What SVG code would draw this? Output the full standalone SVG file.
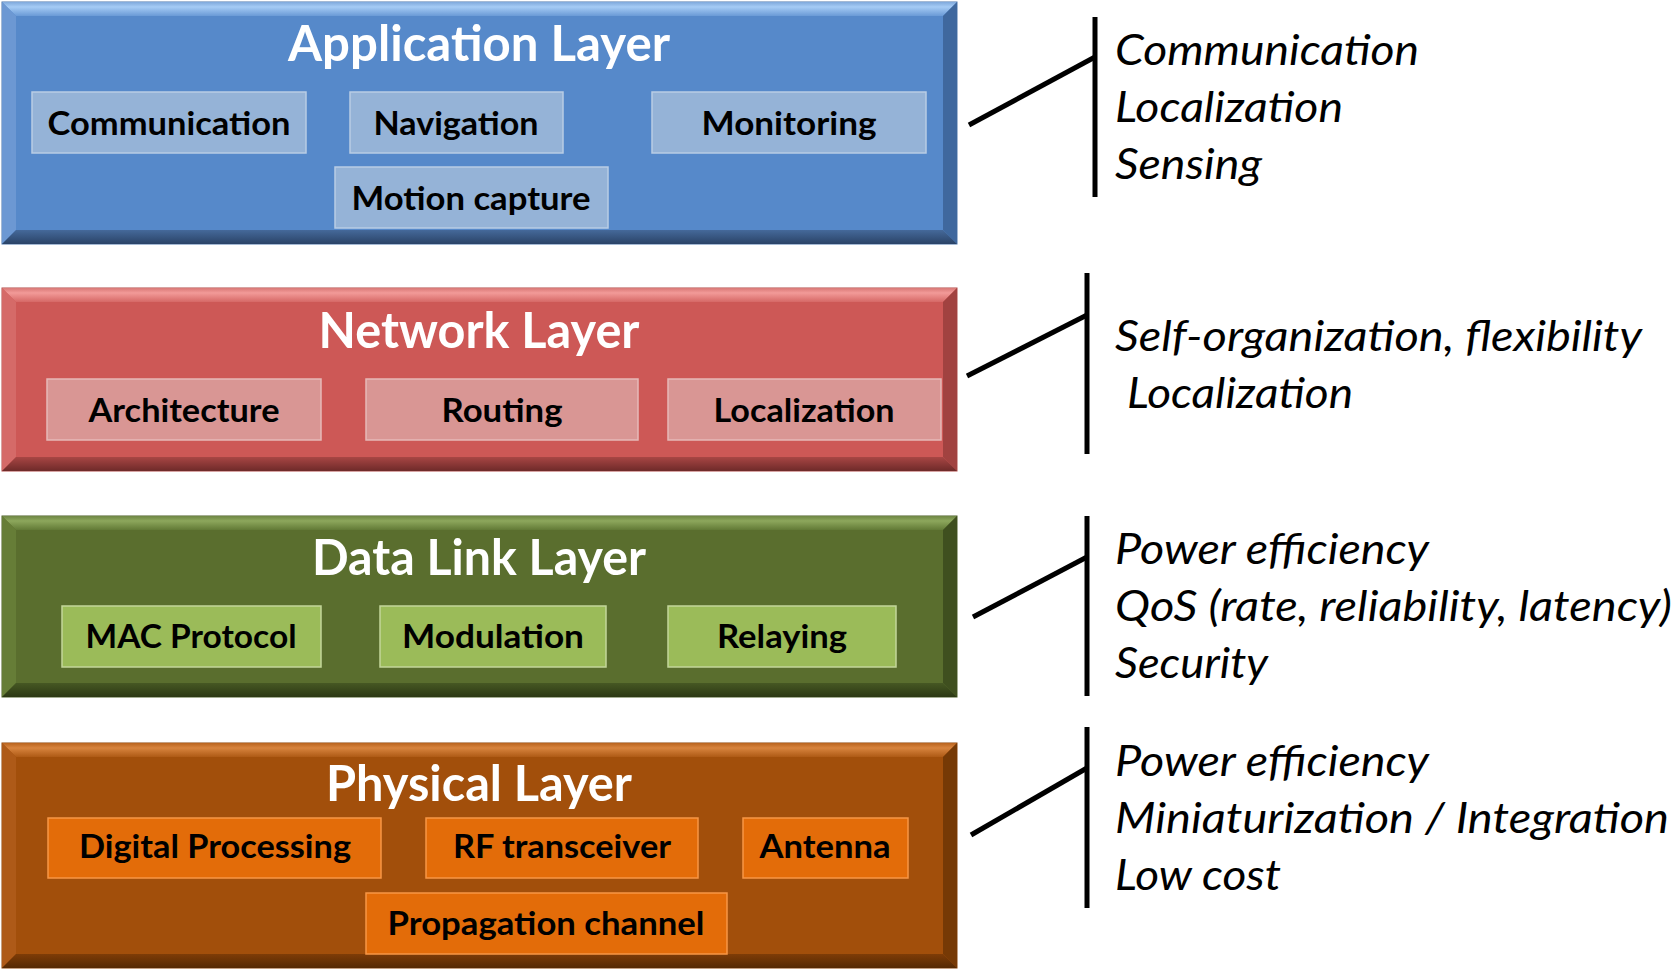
<svg xmlns="http://www.w3.org/2000/svg" width="1675" height="970" viewBox="0 0 1675 970">
<defs>
<linearGradient id="tb" x1="0" y1="0" x2="0" y2="1"><stop offset="0" stop-color="#7FA9DC"/><stop offset="0.35" stop-color="#A5CBF5"/><stop offset="1" stop-color="#6A9AD6"/></linearGradient>
<linearGradient id="bb" x1="0" y1="0" x2="0" y2="1"><stop offset="0" stop-color="#45699A"/><stop offset="1" stop-color="#2A4367"/></linearGradient>
<linearGradient id="tr" x1="0" y1="0" x2="0" y2="1"><stop offset="0" stop-color="#D87876"/><stop offset="0.35" stop-color="#F29A98"/><stop offset="1" stop-color="#D66866"/></linearGradient>
<linearGradient id="br" x1="0" y1="0" x2="0" y2="1"><stop offset="0" stop-color="#A84644"/><stop offset="1" stop-color="#6E2A29"/></linearGradient>
<linearGradient id="tg" x1="0" y1="0" x2="0" y2="1"><stop offset="0" stop-color="#6E8644"/><stop offset="0.35" stop-color="#8DA75C"/><stop offset="1" stop-color="#627A36"/></linearGradient>
<linearGradient id="bg" x1="0" y1="0" x2="0" y2="1"><stop offset="0" stop-color="#465823"/><stop offset="1" stop-color="#2C3814"/></linearGradient>
<linearGradient id="to" x1="0" y1="0" x2="0" y2="1"><stop offset="0" stop-color="#B9631E"/><stop offset="0.35" stop-color="#D8843E"/><stop offset="1" stop-color="#AE5A15"/></linearGradient>
<linearGradient id="bo" x1="0" y1="0" x2="0" y2="1"><stop offset="0" stop-color="#7E3C07"/><stop offset="1" stop-color="#552903"/></linearGradient>
</defs>
<style>
.title{font-family:Lato,"Open Sans","Liberation Sans",sans-serif;font-weight:700;font-size:49px;fill:#FFFFFF;text-anchor:middle}
.lbl{font-family:Lato,"Open Sans","Liberation Sans",sans-serif;font-weight:700;font-size:32px;fill:#000000;text-anchor:middle}
.note{font-family:Lato,"Open Sans","Liberation Sans",sans-serif;font-style:italic;font-size:42px;fill:#000000}
.sb{fill:#95B3D7;stroke:#B9CDE5;stroke-width:1.5}
.sr{fill:#D99694;stroke:#E6B9B8;stroke-width:1.5}
.sg{fill:#9BBB59;stroke:#C3D69B;stroke-width:1.5}
.so{fill:#E36C09;stroke:#F79646;stroke-width:1.5}
.br{fill:none;stroke:#000000;stroke-width:5}
</style>

<g id="application-layer">
<rect x="2" y="2" width="955" height="242" fill="#5689CA" stroke="#4A74AA" stroke-width="1"/>
<polygon points="2,2 957,2 943,16 16,16" fill="url(#tb)"/>
<polygon points="2,2 16,16 16,230 2,244" fill="#6C98D3"/>
<polygon points="957,2 943,16 943,230 957,244" fill="#3F689E"/>
<polygon points="2,244 957,244 943,230 16,230" fill="url(#bb)"/>
<text class="title" x="479" y="61" textLength="382" lengthAdjust="spacingAndGlyphs">Application Layer</text>
<g id="app-communication"><rect class="sb" x="32" y="92" width="274" height="61"/><text class="lbl" x="169" y="135" textLength="243" lengthAdjust="spacingAndGlyphs">Communication</text></g>
<g id="app-navigation"><rect class="sb" x="350" y="92" width="213" height="61"/><text class="lbl" x="456" y="135" textLength="165" lengthAdjust="spacingAndGlyphs">Navigation</text></g>
<g id="app-monitoring"><rect class="sb" x="652" y="92" width="274" height="61"/><text class="lbl" x="789" y="135" textLength="175" lengthAdjust="spacingAndGlyphs">Monitoring</text></g>
<g id="app-motion-capture"><rect class="sb" x="335" y="167" width="273" height="61"/><text class="lbl" x="471" y="210" textLength="239" lengthAdjust="spacingAndGlyphs">Motion capture</text></g>
</g>

<g id="network-layer">
<rect x="2" y="288" width="955" height="183" fill="#CD5856" stroke="#B04A48" stroke-width="1"/>
<polygon points="2,288 957,288 943,302 16,302" fill="url(#tr)"/>
<polygon points="2,288 16,302 16,457 2,471" fill="#D56A68"/>
<polygon points="957,288 943,302 943,457 957,471" fill="#A14240"/>
<polygon points="2,471 957,471 943,457 16,457" fill="url(#br)"/>
<text class="title" x="479" y="348" textLength="321" lengthAdjust="spacingAndGlyphs">Network Layer</text>
<g id="net-architecture"><rect class="sr" x="47" y="379" width="274" height="61"/><text class="lbl" x="184" y="422" textLength="191" lengthAdjust="spacingAndGlyphs">Architecture</text></g>
<g id="net-routing"><rect class="sr" x="366" y="379" width="272" height="61"/><text class="lbl" x="502" y="422" textLength="121" lengthAdjust="spacingAndGlyphs">Routing</text></g>
<g id="net-localization"><rect class="sr" x="668" y="379" width="273" height="61"/><text class="lbl" x="804" y="422" textLength="181" lengthAdjust="spacingAndGlyphs">Localization</text></g>
</g>

<g id="data-link-layer">
<rect x="2" y="516" width="955" height="181" fill="#5A6E2E" stroke="#4B5C26" stroke-width="1"/>
<polygon points="2,516 957,516 943,530 16,530" fill="url(#tg)"/>
<polygon points="2,516 16,530 16,683 2,697" fill="#667D37"/>
<polygon points="957,516 943,530 943,683 957,697" fill="#3F4F1F"/>
<polygon points="2,697 957,697 943,683 16,683" fill="url(#bg)"/>
<text class="title" x="479" y="575" textLength="334" lengthAdjust="spacingAndGlyphs">Data Link Layer</text>
<g id="dl-mac-protocol"><rect class="sg" x="62" y="606" width="259" height="61"/><text class="lbl" x="191" y="648" textLength="211" lengthAdjust="spacingAndGlyphs">MAC Protocol</text></g>
<g id="dl-modulation"><rect class="sg" x="380" y="606" width="226" height="61"/><text class="lbl" x="493" y="648" textLength="182" lengthAdjust="spacingAndGlyphs">Modulation</text></g>
<g id="dl-relaying"><rect class="sg" x="668" y="606" width="228" height="61"/><text class="lbl" x="782" y="648" textLength="130" lengthAdjust="spacingAndGlyphs">Relaying</text></g>
</g>

<g id="physical-layer">
<rect x="2" y="743" width="955" height="225" fill="#A24F0B" stroke="#8A4309" stroke-width="1"/>
<polygon points="2,743 957,743 943,757 16,757" fill="url(#to)"/>
<polygon points="2,743 16,757 16,954 2,968" fill="#AE5A18"/>
<polygon points="957,743 943,757 943,954 957,968" fill="#763905"/>
<polygon points="2,968 957,968 943,954 16,954" fill="url(#bo)"/>
<text class="title" x="479" y="801" textLength="306" lengthAdjust="spacingAndGlyphs">Physical Layer</text>
<g id="phy-digital-processing"><rect class="so" x="48" y="818" width="333" height="60"/><text class="lbl" x="215" y="858" textLength="272" lengthAdjust="spacingAndGlyphs">Digital Processing</text></g>
<g id="phy-rf-transceiver"><rect class="so" x="426" y="818" width="272" height="60"/><text class="lbl" x="562" y="858" textLength="218" lengthAdjust="spacingAndGlyphs">RF transceiver</text></g>
<g id="phy-antenna"><rect class="so" x="743" y="818" width="165" height="60"/><text class="lbl" x="825" y="858" textLength="131" lengthAdjust="spacingAndGlyphs">Antenna</text></g>
<g id="phy-propagation-channel"><rect class="so" x="366" y="893" width="361" height="61"/><text class="lbl" x="546" y="935" textLength="317" lengthAdjust="spacingAndGlyphs">Propagation channel</text></g>
</g>

<g id="connectors">
<line class="br" x1="1095" y1="17" x2="1095" y2="197"/>
<line class="br" x1="969" y1="125" x2="1095" y2="57"/>
<line class="br" x1="1087" y1="273" x2="1087" y2="454"/>
<line class="br" x1="967" y1="376" x2="1087" y2="315"/>
<line class="br" x1="1087" y1="516" x2="1087" y2="696"/>
<line class="br" x1="973" y1="617" x2="1087" y2="557"/>
<line class="br" x1="1087" y1="727" x2="1087" y2="908"/>
<line class="br" x1="971" y1="835" x2="1087" y2="768"/>
</g>

<g id="notes">
<text class="note" x="1115" y="65" textLength="304" lengthAdjust="spacingAndGlyphs">Communication</text>
<text class="note" x="1115" y="122" textLength="228" lengthAdjust="spacingAndGlyphs">Localization</text>
<text class="note" x="1115" y="179" textLength="147" lengthAdjust="spacingAndGlyphs">Sensing</text>
<text class="note" x="1115" y="351" textLength="527" lengthAdjust="spacingAndGlyphs">Self-organization, flexibility</text>
<text class="note" x="1127" y="408" textLength="226" lengthAdjust="spacingAndGlyphs">Localization</text>
<text class="note" x="1115" y="564" textLength="314" lengthAdjust="spacingAndGlyphs">Power efficiency</text>
<text class="note" x="1115" y="621" textLength="557" lengthAdjust="spacingAndGlyphs">QoS (rate, reliability, latency)</text>
<text class="note" x="1115" y="678" textLength="153" lengthAdjust="spacingAndGlyphs">Security</text>
<text class="note" x="1115" y="776" textLength="314" lengthAdjust="spacingAndGlyphs">Power efficiency</text>
<text class="note" x="1115" y="833" textLength="554" lengthAdjust="spacingAndGlyphs">Miniaturization / Integration</text>
<text class="note" x="1115" y="890" textLength="166" lengthAdjust="spacingAndGlyphs">Low cost</text>
</g>
</svg>
